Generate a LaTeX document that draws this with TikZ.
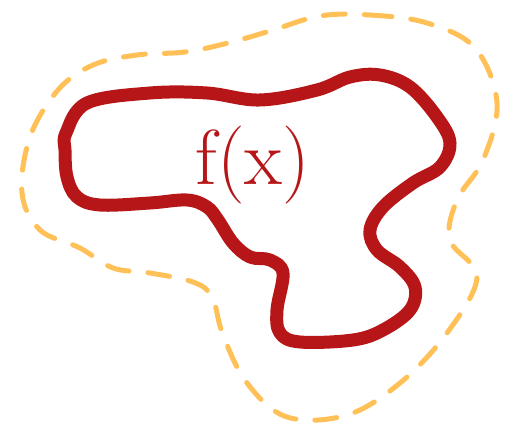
\documentclass[tikz,border=0pt]{standalone}
\definecolor{blobred}{RGB}{183,22,24}
\definecolor{blobora}{RGB}{255,193,87}
\tikzset{
  redblob/.style={draw=blobred,line width=13pt,line join=round},
  orablob/.style={draw=blobora,line width=5pt,line cap=round,dash pattern=on 22pt off 19pt},
  lbl/.style={text=blobred,font=\fontsize{78}{82}\selectfont,inner sep=0pt}
}
\begin{document}
\begin{tikzpicture}[x=1pt,y=-1pt]
\useasboundingbox (0,0) rectangle (506,427);
\draw[orablob] plot[smooth cycle,tension=0.6] coordinates {
(320,16) (370,15) (427,23) (475,48) (497,103) (483,160) (457,200) (450,240) (477,277) (447,333) (400,383) (347,415) (287,417) (247,383) (223,335) (212,297) (193,282) (150,273) (113,268) (80,248) (40,230) (22,193) (30,137) (58,90) (93,65) (137,55) (185,52) (228,43) (270,31)};
\draw[redblob] plot[smooth cycle,tension=0.6] coordinates {
(66,133) (87,103) (150,93) (207,93) (260,100) (317,90) (350,77) (380,75) (410,87) (437,117) (450,143) (440,167) (413,183) (383,207) (370,230) (377,250) (400,267) (415,287) (410,310) (383,330) (353,340) (300,342) (280,333) (277,310) (283,273) (270,260) (250,257) (233,243) (218,220) (207,207) (187,200) (150,203) (100,205) (77,197) (67,177) (65,150)};
\node[lbl] (fx) at (253,165) {f(x)};
\end{tikzpicture}
\end{document}
